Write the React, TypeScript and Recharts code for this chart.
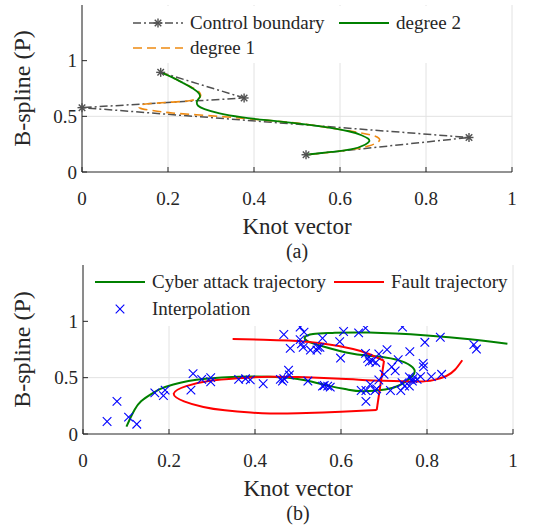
import type { ReactNode } from "react"
import { ComposedChart, Line, Scatter, XAxis, YAxis, CartesianGrid } from "recharts"

type Pt = { x: number; y: number }
const toPoints = (rows: number[][]): Pt[] => rows.map(([x, y]) => ({ x, y }))

const knotTicks = [0, 0.2, 0.4, 0.6, 0.8, 1]
const splineTicks = [0, 0.5, 1]

// (a) control polygon and the B-splines it generates
const controlBoundary = toPoints([
  [0.183, 0.895], [0.377, 0.665], [0, 0.578], [0.9, 0.31], [0.521, 0.155],
])

const degree2 = toPoints([
  [0.183, 0.895], [0.21, 0.85], [0.235, 0.8], [0.258, 0.75], [0.272, 0.705],
  [0.274, 0.672], [0.27, 0.652], [0.267, 0.625], [0.27, 0.595], [0.285, 0.565],
  [0.32, 0.527], [0.37, 0.493], [0.43, 0.465], [0.5, 0.437], [0.555, 0.41],
  [0.62, 0.366], [0.65, 0.33], [0.665, 0.3], [0.668, 0.275], [0.658, 0.245],
  [0.628, 0.205], [0.58, 0.18], [0.521, 0.155],
])

const degree1 = toPoints([
  [0.183, 0.895], [0.21, 0.85], [0.235, 0.8], [0.258, 0.755], [0.272, 0.72],
  [0.276, 0.69], [0.272, 0.665], [0.25, 0.64], [0.21, 0.628], [0.16, 0.615],
  [0.138, 0.603], [0.133, 0.585], [0.14, 0.567], [0.175, 0.546], [0.21, 0.53],
  [0.284, 0.509], [0.357, 0.488], [0.431, 0.464], [0.5, 0.44], [0.554, 0.41],
  [0.628, 0.365], [0.675, 0.33], [0.69, 0.305], [0.69, 0.275], [0.668, 0.235],
  [0.635, 0.208], [0.59, 0.183], [0.521, 0.155],
])

// (b) trajectories and interpolation samples
const cyberAttack = toPoints([
  [0.101, 0.066], [0.11, 0.14], [0.12, 0.216], [0.135, 0.29], [0.157, 0.35],
  [0.18, 0.4], [0.21, 0.44], [0.245, 0.47], [0.285, 0.491], [0.36, 0.509],
  [0.435, 0.509], [0.478, 0.5], [0.52, 0.475], [0.575, 0.425], [0.615, 0.395],
  [0.65, 0.38], [0.703, 0.395], [0.74, 0.44], [0.766, 0.515], [0.77, 0.575],
  [0.748, 0.635], [0.703, 0.68], [0.628, 0.712], [0.553, 0.783], [0.522, 0.825],
  [0.516, 0.86], [0.535, 0.888], [0.58, 0.897], [0.665, 0.9], [0.8, 0.874],
  [0.9, 0.84], [0.987, 0.8],
])

const faultUpper = toPoints([
  [0.348, 0.843], [0.42, 0.837], [0.478, 0.829], [0.553, 0.805], [0.628, 0.754],
  [0.665, 0.71], [0.7, 0.65],
])

const faultLower = toPoints([
  [0.683, 0.212], [0.6, 0.198], [0.5, 0.185], [0.435, 0.183], [0.39, 0.19],
  [0.33, 0.21], [0.28, 0.24], [0.235, 0.29], [0.211, 0.359], [0.24, 0.425],
  [0.292, 0.47], [0.36, 0.495], [0.43, 0.508], [0.5, 0.505], [0.56, 0.497],
  [0.628, 0.485], [0.7, 0.472], [0.778, 0.465], [0.815, 0.478], [0.845, 0.515],
  [0.865, 0.57], [0.882, 0.655],
])

// sharp drop joining the two fault pieces
const faultDrop = [faultUpper[faultUpper.length - 1], faultLower[0]]

const interpolation = toPoints([
  [0.056, 0.111], [0.079, 0.29], [0.106, 0.15], [0.125, 0.087], [0.167, 0.365],
  [0.187, 0.341], [0.191, 0.389], [0.251, 0.389], [0.256, 0.536], [0.276, 0.485],
  [0.297, 0.5], [0.297, 0.464], [0.362, 0.485], [0.378, 0.49], [0.389, 0.48],
  [0.419, 0.446], [0.459, 0.485], [0.464, 0.47], [0.467, 0.491], [0.478, 0.566],
  [0.48, 0.524], [0.523, 0.47], [0.557, 0.425], [0.467, 0.883], [0.482, 0.76],
  [0.505, 0.949], [0.514, 0.904], [0.505, 0.838], [0.508, 0.8], [0.512, 0.769],
  [0.529, 0.745], [0.544, 0.745], [0.551, 0.769], [0.606, 0.91], [0.641, 0.898],
  [0.657, 0.94], [0.743, 0.949], [0.557, 0.85], [0.597, 0.82], [0.546, 0.769],
  [0.599, 0.674], [0.657, 0.716], [0.662, 0.671], [0.666, 0.641], [0.673, 0.65],
  [0.681, 0.635], [0.688, 0.71], [0.707, 0.749], [0.733, 0.659], [0.76, 0.731],
  [0.718, 0.596], [0.726, 0.56], [0.7, 0.53], [0.688, 0.479], [0.647, 0.386],
  [0.658, 0.386], [0.658, 0.29], [0.668, 0.44], [0.679, 0.386], [0.683, 0.401],
  [0.715, 0.386], [0.739, 0.386], [0.748, 0.425], [0.742, 0.455], [0.767, 0.491],
  [0.561, 0.431], [0.569, 0.425], [0.575, 0.416], [0.795, 0.814], [0.831, 0.859],
  [0.909, 0.793], [0.915, 0.754], [0.791, 0.626], [0.792, 0.596], [0.759, 0.506],
  [0.766, 0.47], [0.777, 0.485], [0.785, 0.509], [0.81, 0.509], [0.834, 0.53],
  [0.759, 0.425],
])

const FONT = "'Liberation Serif', 'Times New Roman', serif"
const INK = "#262626"
const GRID = "#e2e2e2"
const GRAY = "#505050"
const GREEN = "#008000"
const ORANGE = "#ee8a12"
const RED = "#ff0000"
const BLUE = "#0000ff"
const DASH_DOT = "8 3 2 3"
const DASHED = "9 5"
const TICK = 5

// ---- axis ticks (drawn inward, MATLAB style) ----
function BottomTick({ x, y, payload }: any) {
  return (
    <g>
      <line x1={x} y1={y} x2={x} y2={y - TICK} stroke={INK} />
      <text x={x} y={y + 33} textAnchor="middle" fontSize={19} fill={INK} fontFamily={FONT}>
        {payload.value}
      </text>
    </g>
  )
}

function TopTick({ x, y }: any) {
  return <line x1={x} y1={y} x2={x} y2={y + TICK} stroke={INK} />
}

function LeftTick({ x, y, payload }: any) {
  return (
    <g>
      <line x1={x} y1={y} x2={x + TICK} y2={y} stroke={INK} />
      <text x={x - 5} y={y} dy="0.35em" textAnchor="end" fontSize={19} fill={INK} fontFamily={FONT}>
        {payload.value}
      </text>
    </g>
  )
}

function RightTick({ x, y }: any) {
  return <line x1={x} y1={y} x2={x - TICK} y2={y} stroke={INK} />
}

function XLabel({ viewBox, caption }: any) {
  const cx = viewBox.x + viewBox.width / 2
  return (
    <g fontFamily={FONT} fill={INK}>
      <text x={cx} y={viewBox.y + 62} textAnchor="middle" fontSize={23}>Knot vector</text>
      <text x={cx} y={viewBox.y + 86} textAnchor="middle" fontSize={20}>{caption}</text>
    </g>
  )
}

function YLabel({ viewBox }: any) {
  const cy = viewBox.y + viewBox.height / 2
  return (
    <text x={30} y={cy} transform={`rotate(-90 30 ${cy})`} textAnchor="middle"
      fontSize={24} fill={INK} fontFamily={FONT}>
      B-spline (P)
    </text>
  )
}

// ---- markers ----
function Asterisk({ cx, cy, r = 4.5 }: { cx: number; cy: number; r?: number }) {
  const d = r * 0.72
  return (
    <g stroke={GRAY} strokeWidth={1.4}>
      <line x1={cx - r} y1={cy} x2={cx + r} y2={cy} />
      <line x1={cx} y1={cy - r} x2={cx} y2={cy + r} />
      <line x1={cx - d} y1={cy - d} x2={cx + d} y2={cy + d} />
      <line x1={cx - d} y1={cy + d} x2={cx + d} y2={cy - d} />
    </g>
  )
}

function Cross({ cx, cy, r = 4.3 }: { cx: number; cy: number; r?: number }) {
  return (
    <g stroke={BLUE} strokeWidth={1.1}>
      <line x1={cx - r} y1={cy - r} x2={cx + r} y2={cy + r} />
      <line x1={cx - r} y1={cy + r} x2={cx + r} y2={cy - r} />
    </g>
  )
}

const renderStar = (p: any) => <Asterisk key={`s-${p.index}`} cx={p.cx} cy={p.cy} />
const renderCross = (p: any) => <Cross cx={p.cx} cy={p.cy} />

// ---- legend ----
function LegendItem({ x, y, label, children }: { x: number; y: number; label: string; children: ReactNode }) {
  return (
    <>
      <svg width={50} height={14} style={{ position: "absolute", left: x, top: y - 7 }}>
        {children}
      </svg>
      <span style={{
        position: "absolute", left: x + 57, top: y - 12, lineHeight: "24px",
        fontSize: 19, color: INK, whiteSpace: "nowrap",
      }}>
        {label}
      </span>
    </>
  )
}

const sample = (stroke: string, width: number, dash?: string) => (
  <line x1={0} y1={7} x2={50} y2={7} stroke={stroke} strokeWidth={width} strokeDasharray={dash} />
)

function Axes({ caption }: { caption: string }) {
  return (
    <>
      <CartesianGrid stroke={GRID} horizontalValues={[0.5]} />
      <XAxis dataKey="x" type="number" domain={[0, 1]} ticks={knotTicks} height={60}
        axisLine={{ stroke: INK }} tickLine={false} tickSize={0} tickMargin={0}
        tick={<BottomTick />} label={<XLabel caption={caption} />} />
      <XAxis xAxisId="top" orientation="top" type="number" domain={[0, 1]} ticks={knotTicks}
        height={0} axisLine={{ stroke: INK }} tickLine={false} tickSize={0} tickMargin={0}
        tick={<TopTick />} />
      <YAxis dataKey="y" type="number" domain={[0, 1.5]} ticks={splineTicks} width={82}
        axisLine={{ stroke: INK }} tickLine={false} tickSize={0} tickMargin={0}
        tick={<LeftTick />} label={<YLabel />} />
      <YAxis yAxisId="right" orientation="right" type="number" domain={[0, 1.5]} ticks={splineTicks}
        width={0} axisLine={{ stroke: INK }} tickLine={false} tickSize={0} tickMargin={0}
        tick={<RightTick />} />
    </>
  )
}

function SplineChart() {
  return (
    <div style={{ position: "absolute", left: 0, top: 0, width: 543, height: 264 }}>
      <ComposedChart width={543} height={264} margin={{ top: 5, right: 31, bottom: 32, left: 0 }}>
        {Axes({ caption: "(a)" })}
        <Line data={controlBoundary} dataKey="y" type="linear" stroke={GRAY} strokeWidth={1.5}
          strokeDasharray={DASH_DOT} dot={renderStar} activeDot={false} isAnimationActive={false} />
        <Line data={degree1} dataKey="y" type="natural" stroke={ORANGE} strokeWidth={1.6}
          strokeDasharray={DASHED} dot={false} activeDot={false} isAnimationActive={false} />
        <Line data={degree2} dataKey="y" type="natural" stroke={GREEN} strokeWidth={1.8}
          dot={false} activeDot={false} isAnimationActive={false} />
      </ComposedChart>
      <div style={{ position: "absolute", left: 127, top: 6, width: 336, height: 57, background: "#fff" }} />
      <LegendItem x={133} y={23} label="Control boundary">
        {sample(GRAY, 1.5, DASH_DOT)}
        <Asterisk cx={25} cy={7} />
      </LegendItem>
      <LegendItem x={339} y={23} label="degree 2">{sample(GREEN, 1.8)}</LegendItem>
      <LegendItem x={133} y={48} label="degree 1">{sample(ORANGE, 1.6, DASHED)}</LegendItem>
    </div>
  )
}

function TrajectoryChart() {
  return (
    <div style={{ position: "absolute", left: 0, top: 260, width: 543, height: 267 }}>
      <ComposedChart width={543} height={267} margin={{ top: 5, right: 30, bottom: 33, left: 1 }}>
        {Axes({ caption: "(b)" })}
        <Line data={cyberAttack} dataKey="y" type="natural" stroke={GREEN} strokeWidth={2}
          dot={false} activeDot={false} isAnimationActive={false} />
        <Line data={faultUpper} dataKey="y" type="natural" stroke={RED} strokeWidth={2}
          dot={false} activeDot={false} isAnimationActive={false} />
        <Line data={faultDrop} dataKey="y" type="linear" stroke={RED} strokeWidth={2}
          dot={false} activeDot={false} isAnimationActive={false} />
        <Line data={faultLower} dataKey="y" type="natural" stroke={RED} strokeWidth={2}
          dot={false} activeDot={false} isAnimationActive={false} />
        <Scatter data={interpolation} shape={renderCross} isAnimationActive={false} />
      </ComposedChart>
      <div style={{ position: "absolute", left: 90, top: 4, width: 420, height: 62, background: "#fff" }} />
      <LegendItem x={95} y={22} label="Cyber attack trajectory">{sample(GREEN, 2)}</LegendItem>
      <LegendItem x={334} y={22} label="Fault trajectory">{sample(RED, 2)}</LegendItem>
      <LegendItem x={95} y={49} label="Interpolation">
        <Cross cx={25} cy={7} />
      </LegendItem>
    </div>
  )
}

export default function App() {
  return (
    <div style={{
      position: "absolute", left: 0, top: 0, width: 543, height: 527,
      background: "#fff", fontFamily: FONT,
    }}>
      <SplineChart />
      <TrajectoryChart />
    </div>
  )
}
